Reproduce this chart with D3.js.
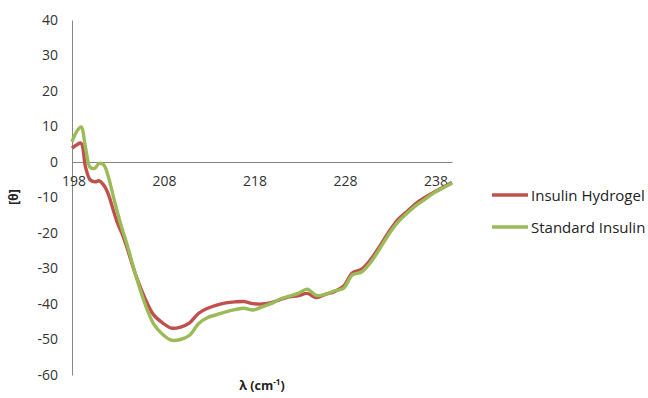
<!DOCTYPE html>
<html><head><meta charset="utf-8">
<script src="https://cdn.jsdelivr.net/npm/d3@7"></script>
<style>body{margin:0;background:#fff}svg{display:block}</style>
</head><body>
<script>
const wavelengths = [198,198.5,199,199.5,200,200.5,201,201.5,202,202.5,203,203.5,204,205,206,207,208,209,210,211,212,213,214,215,216,217,218,219,220,221,222,223,224,225,226,227,228,229,230,231,232,233,234,235,236,237,238,239,240];
const insulinHydrogel = [3.9,4.8,5.3,-1.5,-5,-5.6,-5.3,-6.5,-9,-13,-17,-20,-23.5,-31.5,-38,-43,-45.3,-46.8,-46.5,-45.3,-42.6,-41.2,-40.3,-39.7,-39.4,-39.3,-39.9,-40,-39.6,-38.8,-38,-37.7,-37,-38.2,-37.3,-36.5,-35,-31.2,-30.2,-27.5,-23.8,-19.8,-16.3,-14,-11.7,-10,-8.5,-7.2,-5.8];
const standardInsulin = [5.7,8.5,9.9,4,-1.5,-1.8,-0.4,-0.8,-4,-9,-14,-18.5,-22.5,-31.5,-39.5,-45.5,-48.5,-50.2,-50,-48.8,-45.5,-43.8,-43,-42.2,-41.6,-41.2,-41.7,-40.8,-39.9,-38.6,-37.8,-37,-35.8,-37.6,-37.3,-36.3,-35.6,-31.8,-31,-28.3,-24.5,-20.4,-17,-14.5,-12.3,-10.5,-8.7,-7.3,-6];
const seriesNames = ["Insulin Hydrogel","Standard Insulin"];
const xTicks = [198,208,218,228,238];
const yTicks = [40,30,20,10,0,-10,-20,-30,-40,-50,-60];
const colors = ["#C0504D","#9BBB59"];

const W=648,H=398;
const svg=d3.select("body").append("svg").attr("width",W).attr("height",H);
const x=d3.scaleLinear().domain([198,240]).range([72,452]);
const y=d3.scaleLinear().domain([-60,40]).range([375,20]);
const font="'Open Sans', sans-serif";

// y axis
const yAxis=svg.append("g").attr("transform",`translate(${x(198)},0)`)
  .call(d3.axisLeft(y).tickValues(yTicks).tickSize(0).tickPadding(14).tickFormat(d=>String(d)));
yAxis.select(".domain").attr("stroke","#868686");
yAxis.selectAll("text").attr("font-family",font).attr("font-size",14).attr("fill","#333");

// x axis along zero
const xAxis=svg.append("g").attr("transform",`translate(0,${y(0)})`)
  .call(d3.axisBottom(x).tickValues(xTicks).tickSize(0).tickPadding(14).tickFormat(d=>String(d)));
xAxis.select(".domain").attr("stroke","#868686");
xAxis.selectAll("text").attr("font-family",font).attr("font-size",14).attr("fill","#333").attr("dx",1.5);

const line=d3.line().x((d,i)=>x(wavelengths[i])).y(d=>y(d)).curve(d3.curveCatmullRom.alpha(0.5));
[insulinHydrogel,standardInsulin].forEach((s,i)=>{
  svg.append("path").datum(s).attr("d",line).attr("fill","none")
    .attr("stroke",colors[i]).attr("stroke-width",3.4).attr("stroke-linejoin","round");
});

// axis titles
svg.append("text").attr("transform","translate(18,197) rotate(-90)").attr("text-anchor","middle")
  .attr("font-family",font).attr("font-weight","bold").attr("font-size",12).attr("fill","#222").text("[θ]");
const xt=svg.append("text").attr("x",262).attr("y",390).attr("text-anchor","middle")
  .attr("font-family",font).attr("font-weight","bold").attr("font-size",12.5).attr("fill","#222");
xt.append("tspan").text("λ (cm");
xt.append("tspan").attr("font-size",8).attr("dy",-5).text("-1");
xt.append("tspan").attr("dy",5).text(")");

// legend
seriesNames.forEach((n,i)=>{
  const ly=195+i*32;
  svg.append("line").attr("x1",492).attr("x2",528).attr("y1",ly).attr("y2",ly)
    .attr("stroke",colors[i]).attr("stroke-width",3.4);
  svg.append("text").attr("x",531).attr("y",ly+5.5).attr("font-family",font).attr("font-size",15)
    .attr("fill","#222").text(n);
});
</script>
</body></html>
